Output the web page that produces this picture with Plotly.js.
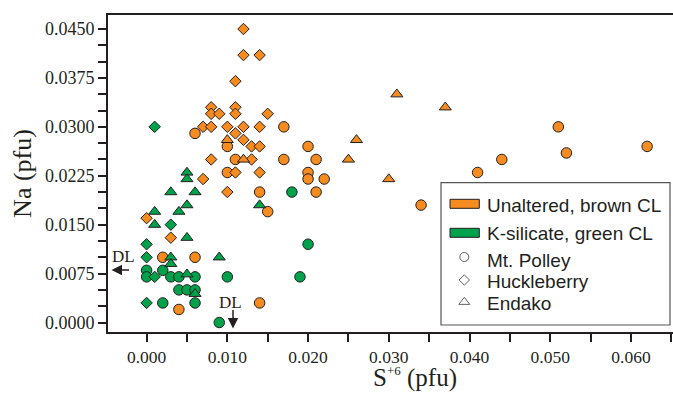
<!DOCTYPE html>
<html><head><meta charset="utf-8">
<script src="https://cdn.plot.ly/plotly-3.0.1.min.js"></script>
<style>html,body{margin:0;padding:0;overflow:hidden;background:#fff;width:673px;height:393px}</style>
</head><body><div id="chart" style="width:680px;height:393px"></div>
<script>
// ---------------- DATA ----------------
// Unaltered, brown CL (orange)
const polleyBrownS  = [0.006,0.017,0.010,0.011,0.017,0.010,0.020,0.021,0.020,0.020,0.022,0.014,0.021,0.015,0.034,0.051,0.062,0.052,0.044,0.041,0.002,0.006,0.004,0.014];
const polleyBrownNa = [0.029,0.030,0.027,0.025,0.025,0.023,0.027,0.025,0.023,0.022,0.022,0.020,0.020,0.017,0.018,0.030,0.027,0.026,0.025,0.023,0.010,0.010,0.002,0.003];
const huckBrownS  = [0.012,0.012,0.014,0.011,0.008,0.011,0.008,0.009,0.011,0.015,0.007,0.008,0.010,0.012,0.014,0.011,0.012,0.013,0.014,0.008,0.013,0.011,0.014,0.007,0.010,0.000,0.003];
const huckBrownNa = [0.045,0.041,0.041,0.037,0.033,0.033,0.032,0.032,0.032,0.032,0.030,0.030,0.030,0.030,0.030,0.029,0.028,0.027,0.027,0.025,0.025,0.023,0.023,0.022,0.020,0.016,0.013];
const endakoBrownS  = [0.010,0.012,0.031,0.037,0.026,0.025,0.030];
const endakoBrownNa = [0.028,0.025,0.035,0.033,0.028,0.025,0.022];
// K-silicate, green CL (green)
const polleyGreenS  = [0.018,0.020,0.019,0.000,0.002,0.000,0.003,0.004,0.006,0.010,0.004,0.005,0.006,0.002,0.006,0.009];
const polleyGreenNa = [0.020,0.012,0.007,0.008,0.008,0.007,0.007,0.007,0.007,0.007,0.005,0.005,0.005,0.003,0.003,0.000];
const huckGreenS  = [0.001,0.003,0.000,0.000,0.001,0.000];
const huckGreenNa = [0.030,0.015,0.012,0.010,0.007,0.003];
const endakoGreenS  = [0.005,0.005,0.003,0.006,0.005,0.014,0.004,0.001,0.001,0.005,0.003,0.003,0.009,0.005,0.006];
const endakoGreenNa = [0.023,0.022,0.020,0.020,0.018,0.018,0.017,0.017,0.015,0.013,0.010,0.009,0.010,0.0074,0.0044];

const xTickVals = [0.000,0.010,0.020,0.030,0.040,0.050,0.060];
const yTickVals = [0.0000,0.0075,0.0150,0.0225,0.0300,0.0375,0.0450];
const legendLabels = ["Unaltered, brown CL","K-silicate, green CL","Mt. Polley","Huckleberry","Endako"];
const xTitle = 'S<sup><span style="font-size:13px">+6</span></sup> (pfu)';
const yTitle = 'Na (pfu)';
const dlLabel = "DL";

// ---------------- STYLE / GEOMETRY ----------------
const ORANGE = '#f68b1f', GREEN = '#00a14b', INK = '#231f20';
const W = 680, H = 393, L = 108, R = 2, T = 15, B = 61;
const plotW = W - L - R, plotH = H - T - B;
const px = x => (x - L) / plotW;
const py = y => (H - B - y) / plotH;
const SERIF = 'Liberation Serif, Times New Roman, serif';
const SANS = 'Liberation Sans, Arial, sans-serif';

function mk(xs, ys, color, symbol) {
  const size = symbol === 'circle' ? 10.5 : (symbol === 'diamond' ? 8.8 : 10.5);
  return {type:'scatter', mode:'markers', x:xs, y:ys, hoverinfo:'skip',
    marker:{color:color, symbol:symbol, size:size, line:{color:INK, width:1}}};
}

const traces = [
  mk(polleyGreenS, polleyGreenNa, GREEN, 'circle'),
  mk(huckGreenS, huckGreenNa, GREEN, 'diamond'),
  mk(polleyBrownS, polleyBrownNa, ORANGE, 'circle'),
  mk(huckBrownS, huckBrownNa, ORANGE, 'diamond'),
  mk(endakoBrownS, endakoBrownNa, ORANGE, 'triangle-up'),
  mk(endakoGreenS, endakoGreenNa, GREEN, 'triangle-up'),
  // legend symbols (open markers) on an overlay paper-like axis
  {type:'scatter', mode:'markers', xaxis:'x2', yaxis:'y2', hoverinfo:'skip',
   x:[px(464.3), px(464.3), px(464.3)], y:[py(257), py(280), py(302)],
   marker:{symbol:['circle','diamond','triangle-up'], size:[9,8,9.5], color:'#fff', line:{color:INK, width:1}}}
];

const legendRowsY = [205, 234, 260, 281, 303];
const annotations = legendLabels.map((t, i) => ({
  xref:'paper', yref:'paper', x:px(485), y:py(legendRowsY[i]), xanchor:'left', yanchor:'middle',
  text:t, showarrow:false, font:{family:SANS, size:19, color:INK}
}));
annotations.push(
  // x-axis title (centred on the full, cropped plot width as in the source)
  {xref:'paper', yref:'paper', x:px(415), y:py(377), xanchor:'center', yanchor:'middle',
   text:xTitle, showarrow:false, font:{family:SERIF, size:25, color:INK}},
  {xref:'x', yref:'y', x:(123.5-146.6)/8073, y:(322.5-256.5)/6522, text:dlLabel, showarrow:false,
   xanchor:'center', yanchor:'middle', font:{family:SERIF, size:17, color:INK}},
  {xref:'x', yref:'y', x:(111.5-146.6)/8073, y:(322.5-270)/6522, text:'', showarrow:true,
   ax:19, ay:0, arrowhead:2, arrowsize:1.4, arrowwidth:1.5, arrowcolor:INK, standoff:0, startstandoff:0},
  {xref:'x', yref:'y', x:(230-146.6)/8073, y:(322.5-302)/6522, text:dlLabel, showarrow:false,
   xanchor:'center', yanchor:'middle', font:{family:SERIF, size:17, color:INK}},
  {xref:'x', yref:'y', x:(233-146.6)/8073, y:(322.5-328.5)/6522, text:'', showarrow:true,
   ax:0, ay:-20, arrowhead:2, arrowsize:1.4, arrowwidth:1.5, arrowcolor:INK, standoff:0, startstandoff:0}
);

const shapes = [
  {type:'rect', xref:'paper', yref:'paper', x0:px(441), x1:px(670), y0:py(325), y1:py(182.7),
   line:{color:'#555', width:1.2}, fillcolor:'#fff', layer:'below'},
  {type:'rect', xref:'paper', yref:'paper', x0:px(450), x1:px(479.3), y0:py(208.3), y1:py(199.3),
   line:{color:INK, width:1}, fillcolor:ORANGE},
  {type:'rect', xref:'paper', yref:'paper', x0:px(450), x1:px(479.3), y0:py(237.3), y1:py(228.3),
   line:{color:INK, width:1}, fillcolor:GREEN}
];

const axisCommon = {showline:true, mirror:true, linecolor:INK, linewidth:2, ticks:'outside', ticklen:8,
  tickwidth:2, tickcolor:INK, showgrid:false, zeroline:false, tickfont:{family:SERIF, size:18, color:INK}};

const layout = {
  width:W, height:H, margin:{l:L, r:R, t:T, b:B}, showlegend:false,
  paper_bgcolor:'#fff', plot_bgcolor:'#fff',
  xaxis:Object.assign({}, axisCommon, {range:[(L-146.6)/8073, (W-R-146.6)/8073], tickvals:xTickVals,
    tickformat:'.3f', tickfont:{family:SERIF, size:17.5, color:INK},
    minor:{dtick:0.005, tick0:0, ticks:'outside', ticklen:8, tickwidth:2, tickcolor:INK}}),
  yaxis:Object.assign({}, axisCommon, {range:[(322.5-(H-B))/6522, (322.5-T)/6522], tickvals:yTickVals,
    tickformat:'.4f', minor:{dtick:0.0025, tick0:0, ticks:'outside', ticklen:8, tickwidth:2, tickcolor:INK},
    title:{text:yTitle, font:{family:SERIF, size:26, color:INK}, standoff:6}}),
  xaxis2:{overlaying:'x', range:[0,1], visible:false, fixedrange:true},
  yaxis2:{overlaying:'y', range:[0,1], visible:false, fixedrange:true},
  shapes:shapes, annotations:annotations
};

Plotly.newPlot('chart', traces, layout, {staticPlot:true, displayModeBar:false});
</script></body></html>
